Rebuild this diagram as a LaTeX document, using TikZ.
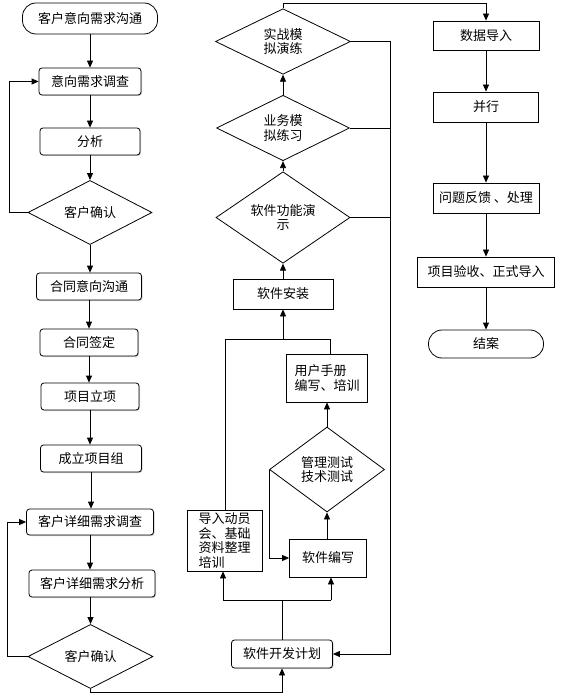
\documentclass[tikz,border=0pt]{standalone}
\usepackage{fontspec}
\setmainfont{Noto Sans CJK SC}
\usetikzlibrary{shapes.geometric,arrows.meta,shadows}
\begin{document}
\begin{tikzpicture}[x=1pt,y=-1pt,
  font=\fontsize{13}{14.5}\selectfont,
  line width=0.8pt,
  arr/.style={-{Triangle[length=7pt,width=6pt]}},
  rbox/.style={draw, rounded corners=3pt, inner sep=0pt, fill=white,
    drop shadow={shadow xshift=1pt,shadow yshift=-1pt,opacity=0.35}},
  sbox/.style={draw, inner sep=0pt, fill=white},
  term/.style={draw, rounded corners=13.5pt, inner sep=0pt, fill=white},
  dia/.style={draw, diamond, inner sep=0pt, align=center},
  sz/.style 2 args={minimum width=#1pt, minimum height=#2pt},
]
\fill[white] (0,0) rectangle (575,700);
\useasboundingbox (0,0) rectangle (575,700);

% left column
\node[term, sz={135}{31}] (t1) at (90,18.5) {客户意向需求沟通};
\node[rbox, sz={102}{27}] (b1) at (90,81.5) {意向需求调查};
\node[rbox, sz={100}{27}] (b2) at (90,141.5) {分析};
\node[dia, sz={124}{51}] (d1) at (90,212.5) {客户确认};
\node[rbox, sz={105}{27}] (b3) at (89,286.5) {合同意向沟通};
\node[rbox, sz={98}{27}] (b4) at (89,342.5) {合同签定};
\node[rbox, sz={98}{27}] (b5) at (90,396.5) {项目立项};
\node[rbox, sz={101}{27}] (b6) at (91,458.5) {成立项目组};
\node[rbox, sz={127}{26}] (b7) at (90,522) {客户详细需求调查};
\node[rbox, sz={126}{27}] (b8) at (92,583.5) {客户详细需求分析};
\node[dia, sz={125}{49}] (d2) at (90.5,656.5) {客户确认};

\draw[arr] (t1.south) -- (t1.south |- b1.north);
\draw[arr] (b1.south) -- (b1.south |- b2.north);
\draw[arr] (b2.south) -- (d1.north);
\draw[arr] (d1.south) -- (d1.south |- b3.north);
\draw[arr] (b3.south) -- (b3.south |- b4.north);
\draw[arr] (b4.south) -- (b4.south |- b5.north);
\draw[arr] (b5.south) -- (b5.south |- b6.north);
\draw[arr] (b6.south) -- (b6.south |- b7.north);
\draw[arr] (b7.south) -- (b7.south |- b8.north);
\draw[arr] (b8.south -| d2.north) -- (d2.north);
\draw[arr] (d1.west) -- ++(-18,0) |- (b1.west);
\draw[arr] (d2.west) -- ++(-20,0) |- (b7.west);

% middle column
\node[rbox, sz={101}{28}] (p1) at (282,654) {软件开发计划};
\node[sbox, sz={75}{61}, text width=52pt, inner xsep=11.5pt, align=left] (m1) at (224.5,540.5) {导入动员\\会、基础\\资料整理\\培训};
\node[sbox, sz={81}{48}, text width=65pt, inner xsep=8pt, align=left] (um) at (327,378) {用户手册\\编写、培训};
\node[dia, sz={115}{85}] (dt) at (327,469.5) {管理测试\\技术测试};
\node[sbox, sz={77}{38}] (sw) at (328,558) {软件编写};
\node[sbox, sz={100}{30}] (inst) at (283,294) {软件安装};
\node[dia, sz={134}{59}] (demo) at (283,217.5) {软件功能演\\示};
\node[dia, sz={133}{58}] (biz) at (283,128) {业务模\\拟练习};
\node[dia, sz={135}{59}] (real) at (283,41.5) {实战模\\拟演练};

\coordinate (bot) at (0,692);
\draw[arr] (d2.south) -- (d2.south |- bot) -| (p1.south);
\coordinate (sL) at (223,600);
\coordinate (sR) at (331,600);
\draw (p1.north) -- (p1.north |- sL);
\draw (sL) -- (sR);
\draw[arr] (sL) -- (sL |- m1.south);
\draw[arr] (sR) -- (sR |- sw.south);
\draw[arr] (dt.west) |- (sw.west);
\draw[arr] (sw.north -| dt.south) -- (dt.south);
\draw[arr] (dt.north) -- (um.south);
\coordinate (tL) at (225,339);
\coordinate (tR) at (330,339);
\draw (m1.north -| tL) -- (tL) -- (tR) -- (tR |- um.north);
\draw[arr] (inst.south |- tL) -- (inst.south);
\draw[arr] (inst.north) -- (demo.south);
\draw[arr] (demo.north) -- (biz.south);
\draw[arr] (biz.north) -- (real.south);
\coordinate (rv) at (390,0);
\draw[arr] (real.east) -- (real.east -| rv) |- (p1.east);
\draw (biz.east) -- (biz.east -| rv);
\draw (demo.east) -- (demo.east -| rv);

% right column
\node[sbox, sz={106}{29}] (di) at (486,35.5) {数据导入};
\node[sbox, sz={105}{30}] (bx) at (486,107) {并行};
\node[sbox, sz={106}{30}] (wt) at (486,198) {问题反馈 、处理};
\node[sbox, sz={137}{30}] (ys) at (486,272) {项目验收、正式导入};
\node[term, sz={115}{28}] (ja) at (486,344) {结案};

\coordinate (top) at (0,3);
\draw[arr] (real.north) -- (real.north |- top) -| (di.north);
\draw[arr] (di.south) -- (bx.north);
\draw[arr] (bx.south) -- (wt.north);
\draw[arr] (wt.south) -- (ys.north);
\draw[arr] (ys.south) -- (ja.north);
\end{tikzpicture}
\end{document}
